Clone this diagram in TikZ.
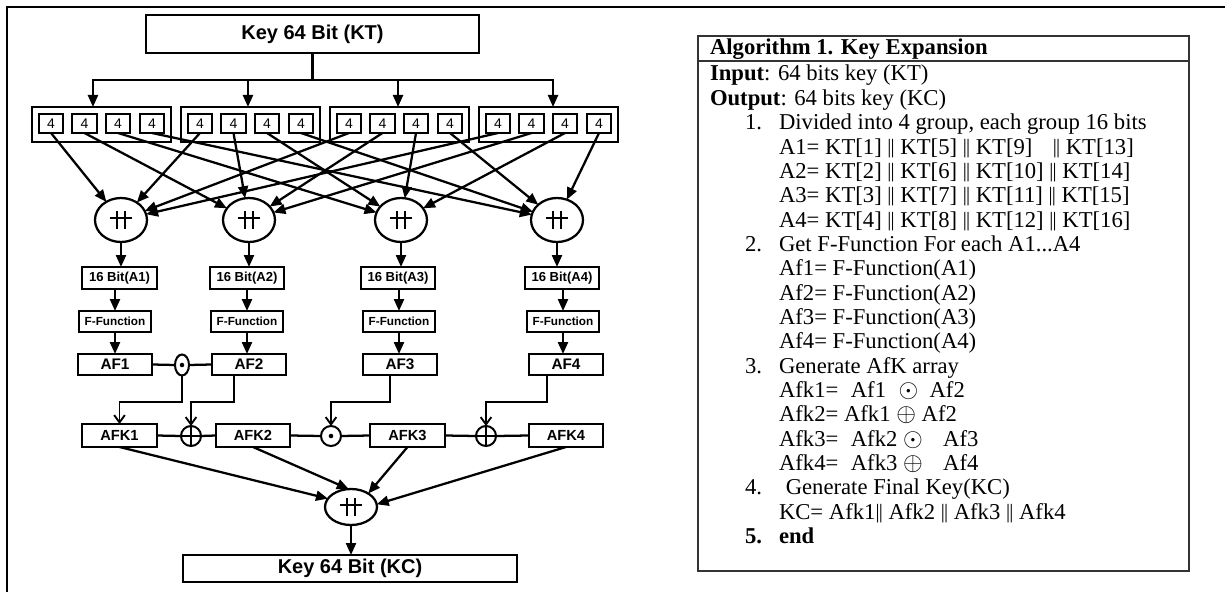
\documentclass[tikz,border=0pt]{standalone}
\usepackage{fontspec}
\usepackage{graphicx}
\setmainfont{Liberation Serif}
\newfontfamily\arial{Liberation Sans}
\usetikzlibrary{arrows.meta,shapes.geometric}
\newcommand{\dbar}{\raisebox{0.04em}{\scalebox{0.9}{|\kern-0.04em|}}}
\newcommand{\myodot}{\smash{\scalebox{1.1}{$\odot$}}}
\newcommand{\myoplus}{\smash{\scalebox{1.1}{$\oplus$}}}
\begin{document}
\begin{tikzpicture}[x=0.75pt,y=-0.75pt,
  every node/.style={inner sep=0pt,outer sep=0pt},
  lw/.style={line width=1.7pt},
  arr/.style={line width=1.7pt,-{Triangle[length=9pt,width=7.5pt]}},
  oarr/.style={line width=1.4pt,-{Straight Barb[length=5.5pt,width=8pt]}},
  box/.style={draw,line width=1.7pt,font=\arial\bfseries},
  gbox/.style={draw,line width=1.7pt,minimum width=104pt,minimum height=26.25pt},
  sbox/.style={draw,line width=1.5pt,minimum width=18.5pt,minimum height=14.25pt,font=\arial\fontsize{10.5}{12}\selectfont},
  catop/.style={draw,ellipse,line width=1.7pt,path picture={
     \draw[line width=1.5pt] ([shift={(-2.7pt,-6.8pt)}]path picture bounding box.center) -- ([shift={(-2.7pt,6.8pt)}]path picture bounding box.center);
     \draw[line width=1.5pt] ([shift={(2.7pt,-6.8pt)}]path picture bounding box.center) -- ([shift={(2.7pt,6.8pt)}]path picture bounding box.center);
     \draw[line width=1.5pt] ([shift={(-8.3pt,1.2pt)}]path picture bounding box.center) -- ([shift={(8.3pt,1.2pt)}]path picture bounding box.center);}},
  odotop/.style={draw,ellipse,line width=1.5pt,path picture={\fill (path picture bounding box.center) circle (1.7pt);}},
  oplusop/.style={draw,circle,line width=1.5pt,minimum size=15pt,path picture={
     \draw[line width=1.5pt] (path picture bounding box.north) -- (path picture bounding box.south)
       (path picture bounding box.west) -- (path picture bounding box.east);}},
  alg/.style={anchor=base west,font=\fontsize{17}{18}\selectfont}
]
\useasboundingbox (0,0) rectangle (1225,592);

% outer frame
\coordinate (fa) at (7,592);
\coordinate (fb) at (7,7);
\coordinate (fc) at (1225,7);
\draw[line width=2pt] (fa) -- (fb) -- (fc);

% ---------- left diagram ----------
\node[box,minimum width=250pt,minimum height=28.5pt,font=\arial\bfseries\fontsize{15}{17}\selectfont] (KT) at (312.5,34) {Key 64 Bit (KT)};
\coordinate (br) at (312.5,80);
\draw[lw] (KT.south) -- (br);

\foreach \g/\x in {1/101.5,2/250.5,3/399.5,4/548.5}{
  \node[gbox] (g\g) at (\x,124.5) {};
  \foreach \k/\dx in {1/-50.5,2/-17,3/16.5,4/50.5}{
    \node[sbox] (s\g\k) at (\x+\dx,123.5) {4};
  }
}
\draw[arr] (br) -| ([xshift=-6.4pt]g1.north);
\draw[arr] (br) -| ([xshift=-1.9pt]g2.north);
\draw[arr] (br) -| ([xshift=-1.1pt]g3.north);
\draw[arr] (br) -| ([xshift=3.4pt]g4.north);

% concatenation circles
\foreach \j/\x in {1/121,2/249,3/401,4/557}{
  \node[catop,minimum width=39pt,minimum height=33pt] (c\j) at (\x,220) {};
}
\foreach \j in {1,...,4}{
  \foreach \g in {1,...,4}{
    \draw[arr] (s\g\j.south) -- (c\j);
  }
}

% columns
\foreach \j/\xb/\xf/\xa in {1/119.5/115/115,2/247/247/249,3/398/399/400,4/562/563/566}{
  \node[box,minimum width=56pt,minimum height=16.5pt,font=\arial\bfseries\fontsize{9.8}{11}\selectfont] (b\j) at (\xb,278) {16 Bit(A\j)};
  \node[box,minimum width=54pt,minimum height=15.75pt,font=\arial\bfseries\fontsize{8.8}{10}\selectfont] (f\j) at (\xf,321.5) {F-Function};
  \node[box,minimum width=56pt,minimum height=15.75pt,font=\arial\bfseries\fontsize{11.5}{13}\selectfont] (a\j) at (\xa,364.5) {AF\j};
  \draw[arr] (c\j.south) -- (c\j.south |- b\j.north);
  \draw[arr] (b\j.south -| f\j.north) -- (f\j.north);
  \draw[arr] (f\j.south) -- (f\j.south |- a\j.north);
}

\node[odotop,minimum width=10.5pt,minimum height=15.75pt] (o1) at (182,365) {};
\draw[lw] (a1.east) -- (o1.west);
\draw[lw] (o1.east) -- (a2.west);

% AFK row
\foreach \j/\x in {1/119.5,2/253,3/407.5,4/566}{
  \node[box,minimum width=56pt,minimum height=17.25pt,font=\arial\bfseries\fontsize{11}{13}\selectfont] (k\j) at (\x,435.5) {AFK\j};
}
\node[oplusop] (p1) at (191,436) {};
\node[odotop,minimum width=15pt,minimum height=15pt] (o2) at (331,436) {};
\node[oplusop] (p3) at (486,436) {};
\draw[lw] (k1.east) -- (p1.west);
\draw[lw] (p1.east) -- (k2.west);
\draw[lw] (k2.east) -- (o2.west);
\draw[lw] (o2.east) -- (k3.west);
\draw[lw] (k3.east) -- (p3.west);
\draw[lw] (p3.east) -- (k4.west);

\coordinate (hy) at (0,402);
\draw[oarr] (o1.south) -- (o1.south |- hy) -| (k1.north);
\draw[oarr] ([xshift=-11.25pt]a2.south) -- ([xshift=-11.25pt]a2.south |- hy) -| (p1.north);
\draw[oarr] ([xshift=-7.5pt]a3.south) -- ([xshift=-7.5pt]a3.south |- hy) -| (o2.north);
\draw[oarr] ([xshift=-14.25pt]a4.south) -- ([xshift=-14.25pt]a4.south |- hy) -| (p3.north);

% final concatenation
\node[catop,minimum width=39pt,minimum height=27pt] (fin) at (351,507) {};
\draw[arr] (k1.south) -- (fin.160);
\draw[arr] (k2.south) -- (fin.97);
\draw[arr] (k3.south) -- (fin.38);
\draw[arr] (k4.south) -- (fin.6);

\node[box,minimum width=250.5pt,minimum height=20.25pt,font=\arial\bfseries\fontsize{15}{17}\selectfont] (KC) at (350,568.5) {Key 64 Bit (KC)};
\draw[arr] (fin.south) -- (fin.south |- KC.north);

% ---------- algorithm ----------
\node[draw=black!80,line width=1pt,minimum width=368.25pt,minimum height=401.25pt] (algbox) at (943.5,303.5) {};
\coordinate (hd) at (0,61);
\draw[line width=1pt,black!80] (algbox.west |- hd) -- (algbox.east |- hd);

\node[alg] (t0) at (710,55) {\textbf{Algorithm 1. Key Expansion}};
\node[alg] (t1) at (710,81) {\textbf{Input}: 64 bits key (KT)};
\node[alg] (t2) at (710,105.35) {\textbf{Output}: 64 bits key (KC)};
\node[alg] (t3) at (745,129.7) {\makebox[25.5pt][l]{1.}Divided into 4 group, each group 16 bits};
\node[alg] (t4) at (779,154.05) {A1= KT[1] \dbar{} KT[5] \dbar{} KT[9]\hspace{0.65em} \dbar{} KT[13]};
\node[alg] (t5) at (779,178.4) {A2= KT[2] \dbar{} KT[6] \dbar{} KT[10] \dbar{} KT[14]};
\node[alg] (t6) at (779,202.75) {A3= KT[3] \dbar{} KT[7] \dbar{} KT[11] \dbar{} KT[15]};
\node[alg] (t7) at (779,227.1) {A4= KT[4] \dbar{} KT[8] \dbar{} KT[12] \dbar{} KT[16]};
\node[alg] (t8) at (745,251.45) {\makebox[25.5pt][l]{2.}Get F-Function For each A1...A4};
\node[alg] (t9) at (779,275.8) {Af1= F-Function(A1)};
\node[alg] (t10) at (779,300.15) {Af2= F-Function(A2)};
\node[alg] (t11) at (779,324.5) {Af3= F-Function(A3)};
\node[alg] (t12) at (779,348.85) {Af4= F-Function(A4)};
\node[alg] (t13) at (745,373.2) {\makebox[25.5pt][l]{3.}Generate AfK array};
\node[alg] (t14) at (779,397.55) {Afk1=\hspace{0.55em}Af1\hspace{0.55em}\myodot\hspace{0.5em}Af2};
\node[alg] (t15) at (779,421.9) {Afk2= Afk1 \myoplus{} Af2};
\node[alg] (t16) at (779,446.25) {Afk3=\hspace{0.55em}Afk2 \myodot\hspace{0.9em}Af3};
\node[alg] (t17) at (779,470.6) {Afk4=\hspace{0.55em}Afk3 \myoplus\hspace{0.9em}Af4};
\node[alg] (t18) at (745,494.95) {\makebox[25.5pt][l]{4.}\hspace{0.3em}Generate Final Key(KC)};
\node[alg] (t19) at (779,519.3) {KC= Afk1\dbar{} Afk2 \dbar{} Afk3 \dbar{} Afk4};
\node[alg] (t20) at (745,543.65) {\textbf{\makebox[25.5pt][l]{5.}end}};
\end{tikzpicture}
\end{document}
